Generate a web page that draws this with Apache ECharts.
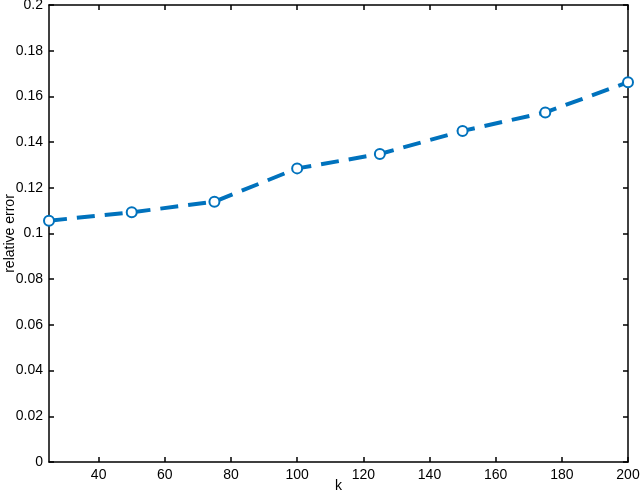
<!DOCTYPE html>
<html>
<head>
<meta charset="utf-8">
<script src="https://cdn.jsdelivr.net/npm/echarts@6/dist/echarts.min.js"></script>
<style>
  html, body { margin: 0; padding: 0; background: #fff; }
  #chart { width: 640px; height: 493px; }
</style>
</head>
<body>
<div id="chart"></div>
<script>
var kValues = [25, 50, 75, 100, 125, 150, 175, 200];
var relErr = [0.1056, 0.1093, 0.1139, 0.1285, 0.1348, 0.1449, 0.1530, 0.1662];
var xTicks = [40, 60, 80, 100, 120, 140, 160, 180, 200];

var font = 'Helvetica, "Liberation Sans", Arial, sans-serif';
var chart = echarts.init(document.getElementById('chart'));

var axisLine = { show: true, onZero: false, lineStyle: { color: '#000', width: 1.5 } };
var tick = { show: true, inside: true, length: 5, lineStyle: { color: '#000', width: 1.5 } };

chart.setOption({
  animation: false,
  grid: { left: 49, right: 12, top: 5, bottom: 31, containLabel: false, outerBoundsMode: 'none' },
  xAxis: [{
    type: 'value', min: 25, max: 200,
    name: 'k', nameLocation: 'middle', nameGap: 17, nameMoveOverlap: false,
    nameTextStyle: { fontFamily: font, fontSize: 14, color: '#000' },
    axisLine: axisLine,
    axisTick: Object.assign({ customValues: xTicks }, tick),
    axisLabel: { customValues: xTicks, color: '#000', fontFamily: font, fontSize: 14, margin: 6 },
    splitLine: { show: false }
  }, {
    type: 'value', min: 25, max: 200, position: 'top',
    axisLine: axisLine,
    axisTick: Object.assign({ customValues: xTicks }, tick),
    axisLabel: { show: false },
    splitLine: { show: false }
  }],
  yAxis: [{
    type: 'value', min: 0, max: 0.2, interval: 0.02,
    name: 'relative error', nameLocation: 'middle', nameGap: 32, nameRotate: 90, nameMoveOverlap: false,
    nameTextStyle: { fontFamily: font, fontSize: 14, color: '#000' },
    axisLine: axisLine,
    axisTick: tick,
    axisLabel: { color: '#000', fontFamily: font, fontSize: 14, margin: 6 },
    splitLine: { show: false }
  }, {
    type: 'value', min: 0, max: 0.2, interval: 0.02, position: 'right',
    axisLine: axisLine,
    axisTick: tick,
    axisLabel: { show: false },
    splitLine: { show: false }
  }],
  series: [{
    type: 'line',
    data: kValues.map(function (k, i) { return [k, relErr[i]]; }),
    symbol: 'emptyCircle',
    symbolSize: 10,
    itemStyle: { color: '#0072BD', borderColor: '#0072BD', borderWidth: 3.5 },
    lineStyle: { color: '#0072BD', width: 4, type: [18, 10] }
  }]
});
</script>
</body>
</html>
